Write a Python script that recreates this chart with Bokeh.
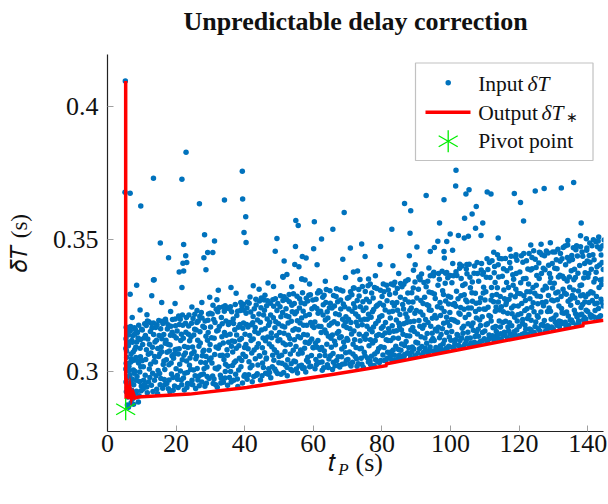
import numpy as np
from bokeh.plotting import figure
from bokeh.models import (Label, Title, BoxAnnotation, FixedTicker, Range1d, CustomJSTickFormatter, LinearAxis)
from bokeh.embed import file_html
from bokeh.resources import INLINE

# ---------------- data ----------------
x_ticks = [0, 20, 40, 60, 80, 100, 120, 140]
y_ticks = [0.3, 0.35, 0.4]

# isolated / high input samples (t_P, dT)
input_outliers = [(5.2,0.4097),(5.1,0.3677),(6.6,0.3674),(13.4,0.3730),(21.7,0.3726),(22.9,0.3828),(39.3,0.3757),
    (9.7,0.3626),(26.8,0.3634),(34.1,0.3648),(39.4,0.3652),(40.3,0.3585),(39.8,0.3526),(40.4,0.3488),(15.4,0.3486),
    (22.2,0.3480),(28.3,0.3517),(31.2,0.3494),(17.8,0.3430),(22.8,0.3438),(22.0,0.3410),(23.1,0.3412),(28.1,0.3430),
    (29.2,0.3450),(30.7,0.3450),(28.7,0.3385),(20.9,0.3377),(22.2,0.3380),(13.6,0.3347),(49.4,0.3503),(48.9,0.3455),
    (51.5,0.3418),(51.2,0.3357),(52.3,0.3367),(54.9,0.3571),(55.6,0.3552),(60.3,0.3566),(54.8,0.3473),(56.8,0.3435),
    (57.9,0.3429),(54.6,0.3405),(55.8,0.3396),(60.1,0.3464),(61.1,0.3404),(62.4,0.3501),(56.7,0.3350),(65.7,0.3538),
    (69.0,0.3601),(68.6,0.3425),(70.8,0.3467),(71.7,0.3377),(72.9,0.3380),(74.1,0.3482),(75.1,0.3435),(76.1,0.3350),
    (79.6,0.3473),(79.4,0.3405),(82.9,0.3538),(83.2,0.3400),(86.6,0.3635),(88.4,0.3608),(88.2,0.3523),(90.2,0.3471),
    (88.0,0.3438),(89.7,0.3404),(92.9,0.3665),(96.8,0.3561),(98.1,0.3649),(101.6,0.3760),(101.5,0.3701),(104.5,0.3671),
    (105.4,0.3687),(107.5,0.3624),(106.3,0.3595),(104.1,0.3579),(107.3,0.3542),(109.4,0.3561),(108.9,0.3514),(99.9,0.3520),
    (102.3,0.3514),(104.0,0.3505),(105.2,0.3511),(98.9,0.3492),(96.3,0.3493),(95.3,0.3469),(94.1,0.3454),(98.1,0.3454),
    (100.6,0.3459),(98.2,0.3429),(110.7,0.3678),(111.8,0.3671),(118.6,0.3673),(120.4,0.3639),(121.3,0.3569),(124.7,0.3682),
    (127.3,0.3692),(132.3,0.3693),(135.9,0.3714),(138.1,0.3561),(137.9,0.3513),(113.9,0.3505),(113.7,0.3442),(119.1,0.3442)]

# samples just above the dense band
input_fringe = [(8.5,0.3327),(13.4,0.3346),(6.6,0.3293),(12.9,0.3287),(21.7,0.3318),(19.7,0.3258),(27.5,0.3262),
    (32.3,0.3308),(36.0,0.3318),(42.5,0.3325),(45.9,0.3289),(48.4,0.3322),(51.1,0.3360),(53.7,0.3321),(56.6,0.3350),
    (57.6,0.3346),(39.6,0.3255),(34.3,0.3249),(18.4,0.3228),(9.5,0.3233),(71.7,0.3316),(76.6,0.3331),(80.4,0.3331),
    (83.4,0.3328),(86.4,0.3330),(91.1,0.3354),(95.0,0.3362),(98.9,0.3375),(104.8,0.3370),(109.6,0.3375),(7.2,0.3205),
    (11.5,0.3215),(15.8,0.3262),(24.6,0.3245),(29.8,0.3281),(37.5,0.3296),(44.2,0.3312),(16.9,0.3198),(26.1,0.3231),
    (31.9,0.3272),(46.8,0.3335),(58.9,0.3331),(63.5,0.3342),(69.4,0.3356),(73.6,0.3348),(78.1,0.3362),(84.9,0.3371),
    (89.2,0.3383),(93.7,0.3392),(102.7,0.3406),(112.6,0.3451),(117.3,0.3462),(123.4,0.3478),(129.1,0.3487),
    (134.2,0.3495),(139.6,0.3502),(143.2,0.3509),(126.4,0.3481)]

# dense band of input samples, by 10 s stretch
band_05_10 = [(5.4,0.3125),(5.5,0.2925),(5.6,0.3055),(5.7,0.2978),(5.8,0.3151),(5.9,0.2905),(6.0,0.3012),(6.1,0.3098),
    (6.2,0.2941),(6.3,0.3167),(6.5,0.2912),(6.7,0.3036),(6.9,0.2962),(7.1,0.3118),(7.3,0.2899),(7.5,0.3075),(7.7,0.2995),
    (7.9,0.3142),(8.1,0.2918),(8.3,0.3054),(8.6,0.2982),(8.9,0.3128),(9.2,0.2910),(9.5,0.3089),(9.7,0.3019),(9.9,0.3161),
    (6.1,0.2866),(6.9,0.2883),(7.6,0.2878),(9.0,0.2886),(5.8,0.2875),
    (5.45,0.3032),(5.65,0.3108),(5.85,0.2958),(6.05,0.3139),(6.25,0.3021),(6.45,0.2986),(6.65,0.3155),(6.85,0.3067),
    (7.05,0.2931),(7.25,0.3112),(7.45,0.3043),(7.65,0.2951),(7.85,0.3166),(8.05,0.3001),(8.25,0.3094),(8.45,0.2927),
    (8.75,0.3148),(9.05,0.3033),(9.35,0.2964),(9.65,0.3122),(9.85,0.2947),(5.35,0.3088),(5.4,0.2962),(5.35,0.3011),
    (5.45,0.3168),
    (5.55,0.3079),(5.75,0.2939),(5.95,0.3146),(6.15,0.3003),(6.35,0.3112),(6.55,0.2955),(6.75,0.3171),(6.95,0.3049),
    (7.15,0.2973),(7.35,0.3136),(7.55,0.3007),(7.75,0.2922),(7.95,0.3084),(8.15,0.3159),(8.35,0.2968),(8.55,0.3113),
    (8.8,0.3041),(9.1,0.3176),(9.4,0.2999),(9.6,0.3057),(9.8,0.2929)]
band_10_20 = [(10.1,0.3042),(10.4,0.2935),(10.7,0.3128),(11.0,0.2987),(11.3,0.3175),(11.6,0.2921),(11.9,0.3066),
    (12.2,0.3011),(12.5,0.3152),(12.8,0.2949),(13.1,0.3093),(13.4,0.3184),(13.7,0.2968),(14.0,0.3037),(14.3,0.3119),
    (14.6,0.2917),(14.9,0.3058),(15.2,0.2994),(15.5,0.3163),(15.8,0.3076),(16.1,0.2938),(16.4,0.3141),(16.7,0.3009),
    (17.0,0.3189),(17.3,0.2956),(17.6,0.3104),(17.9,0.3027),(18.2,0.2925),(18.5,0.3172),(18.8,0.3061),(19.1,0.2979),
    (19.4,0.3136),(19.7,0.3083),
    (10.25,0.3103),(10.55,0.2968),(10.85,0.3181),(11.15,0.3047),(11.45,0.2943),(11.75,0.3124),(12.05,0.3189),
    (12.35,0.2979),(12.65,0.3071),(12.95,0.3165),(13.25,0.2926),(13.55,0.3039),(13.85,0.3113),(14.15,0.2985),
    (14.45,0.3178),(14.75,0.3005),(15.05,0.3137),(15.35,0.2951),(15.65,0.3094),(15.95,0.3191),(16.25,0.3028),
    (16.55,0.2971),(16.85,0.3108),(17.15,0.3046),(17.45,0.3162),(17.75,0.2936),(18.05,0.3079),(18.35,0.3138),
    (18.65,0.2992),(18.95,0.3197),(19.25,0.3051),(19.55,0.2947),(19.85,0.3174),
    (10.15,0.3158),(10.45,0.3019),(10.75,0.2952),(11.05,0.3137),(11.35,0.3083),(11.65,0.3192),(11.95,0.2962),
    (12.25,0.3104),(12.55,0.3029),(12.85,0.3182),(13.15,0.2995),(13.45,0.3141),(13.75,0.3058),(14.05,0.3167),
    (14.35,0.2934),(14.65,0.3088),(14.95,0.3194),(15.25,0.3068),(15.55,0.2975),(15.85,0.3125),(16.15,0.3182),
    (16.45,0.3041),(16.75,0.2952),(17.05,0.3119),(17.35,0.3074),(17.65,0.3178),(17.95,0.2969),(18.25,0.3101),
    (18.55,0.3033),(18.85,0.3149),(19.15,0.2931),(19.45,0.3066),(19.75,0.3199)]
band_20_30 = [(20.0,0.3012),(20.3,0.3154),(20.6,0.2941),(20.9,0.3087),(21.2,0.3198),(21.5,0.2969),(21.8,0.3046),
    (22.1,0.3127),(22.4,0.2932),(22.7,0.3071),(23.0,0.3205),(23.3,0.2998),(23.6,0.3142),(23.9,0.3025),(24.2,0.2954),
    (24.5,0.3183),(24.8,0.3094),(25.1,0.3007),(25.4,0.3161),(25.7,0.2937),(26.0,0.3059),(26.3,0.3119),(26.6,0.2983),
    (26.9,0.3209),(27.2,0.3036),(27.5,0.2962),(27.8,0.3172),(28.1,0.3081),(28.4,0.2946),(28.7,0.3134),(29.0,0.3018),
    (29.3,0.3195),(29.6,0.2975),(29.9,0.3103),
    (20.15,0.3085),(20.45,0.2972),(20.75,0.3211),(21.05,0.3029),(21.35,0.3118),(21.65,0.2951),(21.95,0.3176),
    (22.25,0.3063),(22.55,0.2995),(22.85,0.3149),(23.15,0.2941),(23.45,0.3092),(23.75,0.3214),(24.05,0.3052),
    (24.35,0.3131),(24.65,0.2968),(24.95,0.3201),(25.25,0.3076),(25.55,0.2985),(25.85,0.3158),(26.15,0.3013),
    (26.45,0.3192),(26.75,0.2948),(27.05,0.3109),(27.35,0.3224),(27.65,0.3061),(27.95,0.2992),(28.25,0.3167),
    (28.55,0.3034),(28.85,0.2957),(29.15,0.3119),(29.45,0.3218),(29.75,0.3045),
    (20.05,0.3128),(20.35,0.2986),(20.65,0.3067),(20.95,0.3179),(21.25,0.3003),(21.55,0.3142),(21.85,0.3214),
    (22.15,0.2977),(22.45,0.3096),(22.75,0.3183),(23.05,0.3041),(23.35,0.2956),(23.65,0.3173),(23.95,0.3117),
    (24.25,0.3009),(24.55,0.3068),(24.85,0.2951),(25.15,0.3139),(25.45,0.3217),(25.75,0.3049),(26.05,0.3186),
    (26.35,0.2969),(26.65,0.3097),(26.95,0.3151),(27.25,0.2989),(27.55,0.3203),(27.85,0.3077),(28.15,0.3012),
    (28.45,0.3192),(28.75,0.3058),(29.05,0.2982),(29.35,0.3148),(29.65,0.3081),(29.95,0.3221)]
band_30_40 = [(30.2,0.3052),(30.5,0.3218),(30.8,0.2956),(31.1,0.3127),(31.4,0.3014),(31.7,0.3236),(32.0,0.2942),
    (32.3,0.3089),(32.6,0.3171),(32.9,0.2987),(33.2,0.3205),(33.5,0.3063),(33.8,0.2961),(34.1,0.3148),(34.4,0.3029),
    (34.7,0.3242),(35.0,0.2949),(35.3,0.3112),(35.6,0.3186),(35.9,0.3001),(36.2,0.3227),(36.5,0.3075),(36.8,0.2968),
    (37.1,0.3159),(37.4,0.3041),(37.7,0.3213),(38.0,0.2945),(38.3,0.3098),(38.6,0.3179),(38.9,0.3019),(39.2,0.3248),
    (39.5,0.3066),(39.8,0.2983),
    (30.35,0.3129),(30.65,0.2984),(30.95,0.3197),(31.25,0.3065),(31.55,0.2951),(31.85,0.3154),(32.15,0.3227),
    (32.45,0.3018),(32.75,0.3101),(33.05,0.2958),(33.35,0.3132),(33.65,0.3245),(33.95,0.3047),(34.25,0.2977),
    (34.55,0.3192),(34.85,0.3083),(35.15,0.3021),(35.45,0.3238),(35.75,0.3142),(36.05,0.2962),(36.35,0.3116),
    (36.65,0.3199),(36.95,0.3035),(37.25,0.3254),(37.55,0.3089),(37.85,0.2973),(38.15,0.3168),(38.45,0.3051),
    (38.75,0.3231),(39.05,0.3126),(39.35,0.2958),(39.65,0.3184),(39.95,0.3092),
    (30.05,0.3169),(30.45,0.3033),(30.75,0.3251),(31.05,0.2973),(31.35,0.3186),(31.65,0.3094),(31.95,0.3011),
    (32.25,0.3157),(32.55,0.3243),(32.85,0.3062),(33.15,0.2976),(33.45,0.3181),(33.75,0.3109),(34.05,0.3229),
    (34.35,0.3001),(34.65,0.3138),(34.95,0.3063),(35.25,0.3179),(35.55,0.2979),(35.85,0.3246),(36.15,0.3097),
    (36.45,0.3024),(36.75,0.3182),(37.05,0.3114),(37.35,0.2991),(37.65,0.3139),(37.95,0.3229),(38.25,0.3007),
    (38.55,0.3121),(38.85,0.3262),(39.15,0.3043),(39.45,0.3164),(39.75,0.3232)]
band_40_50 = [(40.1,0.3142),(40.4,0.3221),(40.7,0.2972),(41.0,0.3087),(41.3,0.3259),(41.6,0.3015),(41.9,0.3178),
    (42.2,0.2963),(42.5,0.3124),(42.8,0.3238),(43.1,0.3049),(43.4,0.2987),(43.7,0.3196),(44.0,0.3106),(44.3,0.3267),
    (44.6,0.2969),(44.9,0.3158),(45.2,0.3033),(45.5,0.3214),(45.8,0.3072),(46.1,0.2995),(46.4,0.3249),(46.7,0.3131),
    (47.0,0.3012),(47.3,0.3187),(47.6,0.2978),(47.9,0.3095),(48.2,0.3272),(48.5,0.3044),(48.8,0.3166),(49.1,0.3002),
    (49.4,0.3231),(49.7,0.3117),
    (40.25,0.3058),(40.55,0.3179),(40.85,0.3263),(41.15,0.2989),(41.45,0.3137),(41.75,0.3226),(42.05,0.3071),
    (42.35,0.3185),(42.65,0.2982),(42.95,0.3152),(43.25,0.3274),(43.55,0.3093),(43.85,0.3026),(44.15,0.3218),
    (44.45,0.3059),(44.75,0.3242),(45.05,0.2985),(45.35,0.3128),(45.65,0.3271),(45.95,0.3163),(46.25,0.3048),
    (46.55,0.3199),(46.85,0.2991),(47.15,0.3105),(47.45,0.3259),(47.75,0.3147),(48.05,0.3019),(48.35,0.3204),
    (48.65,0.3083),(48.95,0.3276),(49.25,0.3136),(49.55,0.2994),(49.85,0.3181),
    (40.05,0.2989),(40.35,0.3103),(40.65,0.3241),(40.95,0.3169),(41.25,0.3038),(41.55,0.3282),(41.85,0.3118),
    (42.15,0.3024),(42.45,0.3209),(42.75,0.3082),(43.05,0.3167),(43.35,0.3252),(43.65,0.2993),(43.95,0.3146),
    (44.25,0.3061),(44.55,0.3187),(44.85,0.3279),(45.15,0.3091),(45.45,0.3016),(45.75,0.3232),(46.05,0.3117),
    (46.35,0.3052),(46.65,0.3268),(46.95,0.3176),(47.25,0.2998),(47.55,0.3214),(47.85,0.3129),(48.15,0.3063),
    (48.45,0.3247),(48.75,0.3011),(49.05,0.3189),(49.35,0.3073),(49.65,0.3258),(49.95,0.3034)]
band_50_60 = [(50.0,0.3058),(50.3,0.3246),(50.6,0.2991),(50.9,0.3173),(51.2,0.3109),(51.5,0.3283),(51.8,0.3026),
    (52.1,0.3212),(52.4,0.2985),(52.7,0.3138),(53.0,0.3264),(53.3,0.3067),(53.6,0.3191),(53.9,0.3004),(54.2,0.3295),
    (54.5,0.3121),(54.8,0.3038),(55.1,0.3227),(55.4,0.2996),(55.7,0.3159),(56.0,0.3276),(56.3,0.3082),(56.6,0.3203),
    (56.9,0.3013),(57.2,0.3141),(57.5,0.3257),(57.8,0.2999),(58.1,0.3176),(58.4,0.3055),(58.7,0.3289),(59.0,0.3114),
    (59.3,0.3021),(59.6,0.3238),(59.9,0.3092),
    (50.15,0.3148),(50.45,0.3287),(50.75,0.3063),(51.05,0.3224),(51.35,0.2998),(51.65,0.3169),(51.95,0.3102),
    (52.25,0.3273),(52.55,0.3046),(52.85,0.3208),(53.15,0.3126),(53.45,0.3009),(53.75,0.3251),(54.05,0.3157),
    (54.35,0.3041),(54.65,0.3219),(54.95,0.3096),(55.25,0.3285),(55.55,0.3133),(55.85,0.3022),(56.15,0.3184),
    (56.45,0.3261),(56.75,0.3071),(57.05,0.3229),(57.35,0.3015),(57.65,0.3112),(57.95,0.3278),(58.25,0.3139),
    (58.55,0.3037),(58.85,0.3216),(59.15,0.3291),(59.45,0.3062),(59.75,0.3173),
    (50.25,0.3121),(50.55,0.3208),(50.85,0.3032),(51.15,0.3269),(51.45,0.3146),(51.75,0.3077),(52.05,0.3238),
    (52.35,0.3016),(52.65,0.3184),(52.95,0.3292),(53.25,0.3104),(53.55,0.3031),(53.85,0.3227),(54.15,0.3081),
    (54.45,0.3258),(54.75,0.3163),(55.05,0.3011),(55.35,0.3193),(55.65,0.3067),(55.95,0.3241),(56.25,0.3129),
    (56.55,0.3025),(56.85,0.3298),(57.15,0.3176),(57.45,0.3089),(57.75,0.3212),(58.05,0.3044),(58.35,0.3267),
    (58.65,0.3108),(58.95,0.3019),(59.25,0.3186),(59.55,0.3124),(59.85,0.3271)]
band_60_70 = [(60.2,0.3167),(60.5,0.3012),(60.8,0.3274),(61.1,0.3093),(61.4,0.3221),(61.7,0.3035),(62.0,0.3302),
    (62.3,0.3148),(62.6,0.3006),(62.9,0.3253),(63.2,0.3079),(63.5,0.3196),(63.8,0.3311),(64.1,0.3027),(64.4,0.3134),
    (64.7,0.3242),(65.0,0.3061),(65.3,0.3183),(65.6,0.3009),(65.9,0.3288),(66.2,0.3115),(66.5,0.3219),(66.8,0.3043),
    (67.1,0.3264),(67.4,0.3152),(67.7,0.3018),(68.0,0.3237),(68.3,0.3086),(68.6,0.3305),(68.9,0.3174),(69.2,0.3031),
    (69.5,0.3208),(69.8,0.3126),
    (60.35,0.3246),(60.65,0.3109),(60.95,0.3028),(61.25,0.3297),(61.55,0.3172),(61.85,0.3061),(62.15,0.3229),
    (62.45,0.3092),(62.75,0.3281),(63.05,0.3015),(63.35,0.3158),(63.65,0.3262),(63.95,0.3104),(64.25,0.3203),
    (64.55,0.3048),(64.85,0.3306),(65.15,0.3127),(65.45,0.3241),(65.75,0.3069),(66.05,0.3189),(66.35,0.3023),
    (66.65,0.3284),(66.95,0.3146),(67.25,0.3057),(67.55,0.3215),(67.85,0.3309),(68.15,0.3132),(68.45,0.3029),
    (68.75,0.3256),(69.05,0.3095),(69.35,0.3187),(69.65,0.3044),(69.95,0.3278),
    (60.05,0.3091),(60.45,0.3188),(60.75,0.3047),(61.05,0.3239),(61.35,0.3118),(61.65,0.3306),(61.95,0.3084),
    (62.25,0.3171),(62.55,0.3037),(62.85,0.3214),(63.15,0.3289),(63.45,0.3062),(63.75,0.3147),(64.05,0.3227),
    (64.35,0.3016),(64.65,0.3176),(64.95,0.3259),(65.25,0.3093),(65.55,0.3139),(65.85,0.3036),(66.15,0.3248),
    (66.45,0.3102),(66.75,0.3313),(67.05,0.3181),(67.35,0.3024),(67.65,0.3129),(67.95,0.3271),(68.25,0.3057),
    (68.55,0.3198),(68.85,0.3113),(69.15,0.3246),(69.45,0.3072),(69.75,0.3167)]
band_70_80 = [(70.1,0.3047),(70.4,0.3281),(70.7,0.3163),(71.0,0.3022),(71.3,0.3229),(71.6,0.3104),(71.9,0.3316),
    (72.2,0.3058),(72.5,0.3187),(72.8,0.3269),(73.1,0.3031),(73.4,0.3142),(73.7,0.3246),(74.0,0.3089),(74.3,0.3322),
    (74.6,0.3016),(74.9,0.3198),(75.2,0.3123),(75.5,0.3274),(75.8,0.3052),(76.1,0.3217),(76.4,0.3161),(76.7,0.3028),
    (77.0,0.3297),(77.3,0.3109),(77.6,0.3235),(77.9,0.3067),(78.2,0.3182),(78.5,0.3314),(78.8,0.3039),(79.1,0.3141),
    (79.4,0.3259),(79.7,0.3095),
    (70.25,0.3198),(70.55,0.3075),(70.85,0.3302),(71.15,0.3143),(71.45,0.3036),(71.75,0.3257),(72.05,0.3121),
    (72.35,0.3218),(72.65,0.3049),(72.95,0.3174),(73.25,0.3311),(73.55,0.3087),(73.85,0.3196),(74.15,0.3029),
    (74.45,0.3264),(74.75,0.3133),(75.05,0.3061),(75.35,0.3241),(75.65,0.3172),(75.95,0.3325),(76.25,0.3098),
    (76.55,0.3041),(76.85,0.3206),(77.15,0.3151),(77.45,0.3279),(77.75,0.3024),(78.05,0.3118),(78.35,0.3247),
    (78.65,0.3076),(78.95,0.3193),(79.25,0.3035),(79.55,0.3308),(79.85,0.3164),
    (70.05,0.3119),(70.35,0.3237),(70.65,0.3029),(70.95,0.3186),(71.25,0.3291),(71.55,0.3067),(71.85,0.3154),
    (72.15,0.3243),(72.45,0.3092),(72.75,0.3021),(73.05,0.3209),(73.35,0.3286),(73.65,0.3117),(73.95,0.3051),
    (74.25,0.3178),(74.55,0.3231),(74.85,0.3074),(75.15,0.3303),(75.45,0.3142),(75.75,0.3198),(76.05,0.3037),
    (76.35,0.3264),(76.65,0.3121),(76.95,0.3059),(77.25,0.3227),(77.55,0.3169),(77.85,0.3318),(78.15,0.3046),
    (78.45,0.3136),(78.75,0.3252),(79.05,0.3088),(79.35,0.3207),(79.65,0.3043)]
band_80_90 = [(80.0,0.3212),(80.3,0.3064),(80.6,0.3302),(80.9,0.3147),(81.2,0.3045),(81.5,0.3268),(81.8,0.3118),
    (82.1,0.3226),(82.4,0.3059),(82.7,0.3331),(83.0,0.3174),(83.3,0.3082),(83.6,0.3249),(83.9,0.3043),(84.2,0.3196),
    (84.5,0.3314),(84.8,0.3127),(85.1,0.3063),(85.4,0.3281),(85.7,0.3158),(86.0,0.3049),(86.3,0.3237),(86.6,0.3099),
    (86.9,0.3342),(87.2,0.3186),(87.5,0.3072),(87.8,0.3263),(88.1,0.3135),(88.4,0.3055),(88.7,0.3298),(89.0,0.3167),
    (89.3,0.3086),(89.6,0.3221),(89.9,0.3112),
    (80.15,0.3137),(80.45,0.3251),(80.75,0.3043),(81.05,0.3186),(81.35,0.3327),(81.65,0.3074),(81.95,0.3163),
    (82.25,0.3292),(82.55,0.3118),(82.85,0.3046),(83.15,0.3229),(83.45,0.3153),(83.75,0.3338),(84.05,0.3097),
    (84.35,0.3262),(84.65,0.3049),(84.95,0.3183),(85.25,0.3216),(85.55,0.3081),(85.85,0.3321),(86.15,0.3142),
    (86.45,0.3058),(86.75,0.3273),(87.05,0.3114),(87.35,0.3205),(87.65,0.3347),(87.95,0.3068),(88.25,0.3189),
    (88.55,0.3241),(88.85,0.3094),(89.15,0.3316),(89.45,0.3152),(89.75,0.3061),
    (80.05,0.3284),(80.35,0.3171),(80.65,0.3092),(80.95,0.3233),(81.25,0.3121),(81.55,0.3051),(81.85,0.3309),
    (82.15,0.3148),(82.45,0.3203),(82.75,0.3076),(83.05,0.3261),(83.35,0.3128),(83.65,0.3063),(83.95,0.3297),
    (84.25,0.3155),(84.55,0.3232),(84.85,0.3084),(85.15,0.3171),(85.45,0.3333),(85.75,0.3105),(86.05,0.3254),
    (86.35,0.3181),(86.65,0.3065),(86.95,0.3218),(87.25,0.3136),(87.55,0.3297),(87.85,0.3091),(88.15,0.3232),
    (88.45,0.3158),(88.75,0.3074),(89.05,0.3263),(89.35,0.3191),(89.65,0.3339)]
band_90_100 = [(90.2,0.3279),(90.5,0.3071),(90.8,0.3194),(91.1,0.3347),(91.4,0.3132),(91.7,0.3064),(92.0,0.3258),
    (92.3,0.3176),(92.6,0.3089),(92.9,0.3321),(93.2,0.3145),(93.5,0.3069),(93.8,0.3233),(94.1,0.3362),(94.4,0.3117),
    (94.7,0.3202),(95.0,0.3078),(95.3,0.3294),(95.6,0.3161),(95.9,0.3075),(96.2,0.3246),(96.5,0.3371),(96.8,0.3129),
    (97.1,0.3213),(97.4,0.3084),(97.7,0.3306),(98.0,0.3183),(98.3,0.3081),(98.6,0.3267),(98.9,0.3148),(99.2,0.3355),
    (99.5,0.3097),(99.8,0.3224),
    (90.35,0.3143),(90.65,0.3312),(90.95,0.3087),(91.25,0.3226),(91.55,0.3369),(91.85,0.3164),(92.15,0.3073),
    (92.45,0.3281),(92.75,0.3197),(93.05,0.3108),(93.35,0.3342),(93.65,0.3249),(93.95,0.3081),(94.25,0.3172),
    (94.55,0.3298),(94.85,0.3126),(95.15,0.3376),(95.45,0.3213),(95.75,0.3092),(96.05,0.3154),(96.35,0.3327),
    (96.65,0.3079),(96.95,0.3262),(97.25,0.3141),(97.55,0.3379),(97.85,0.3106),(98.15,0.3228),(98.45,0.3334),
    (98.75,0.3089),(99.05,0.3187),(99.35,0.3285),(99.65,0.3131),(99.95,0.3363),
    (90.05,0.3231),(90.45,0.3109),(90.75,0.3358),(91.05,0.3172),(91.35,0.3269),(91.65,0.3096),(91.95,0.3214),
    (92.25,0.3337),(92.55,0.3128),(92.85,0.3078),(93.15,0.3253),(93.45,0.3186),(93.75,0.3301),(94.05,0.3094),
    (94.35,0.3232),(94.65,0.3146),(94.95,0.3371),(95.25,0.3118),(95.55,0.3277),(95.85,0.3203),(96.15,0.3087),
    (96.45,0.3168),(96.75,0.3349),(97.05,0.3098),(97.35,0.3241),(97.65,0.3163),(97.95,0.3292),(98.25,0.3119),
    (98.55,0.3372),(98.85,0.3206),(99.15,0.3091),(99.45,0.3256),(99.75,0.3174)]
band_100_110 = [(100.1,0.3119),(100.4,0.3336),(100.7,0.3254),(101.0,0.3089),(101.3,0.3192),(101.6,0.3378),(101.9,0.3141),
    (102.2,0.3276),(102.5,0.3098),(102.8,0.3217),(103.1,0.3352),(103.4,0.3164),(103.7,0.3094),(104.0,0.3291),(104.3,0.3205),
    (104.6,0.3388),(104.9,0.3127),(105.2,0.3241),(105.5,0.3101),(105.8,0.3317),(106.1,0.3173),(106.4,0.3266),(106.7,0.3105),
    (107.0,0.3399),(107.3,0.3228),(107.6,0.3151),(107.9,0.3106),(108.2,0.3342),(108.5,0.3196),(108.8,0.3279),(109.1,0.3116),
    (109.4,0.3368),(109.7,0.3237),
    (100.25,0.3197),(100.55,0.3093),(100.85,0.3362),(101.15,0.3258),(101.45,0.3121),(101.75,0.3304),(102.05,0.3187),
    (102.35,0.3099),(102.65,0.3391),(102.95,0.3243),(103.25,0.3128),(103.55,0.3326),(103.85,0.3172),(104.15,0.3104),
    (104.45,0.3271),(104.75,0.3405),(105.05,0.3149),(105.35,0.3216),(105.65,0.3357),(105.95,0.3109),(106.25,0.3298),
    (106.55,0.3184),(106.85,0.3372),(107.15,0.3133),(107.45,0.3259),(107.75,0.3412),(108.05,0.3161),(108.35,0.3236),
    (108.65,0.3114),(108.95,0.3384),(109.25,0.3208),(109.55,0.3297),(109.85,0.3125),
    (100.05,0.3281),(100.35,0.3152),(100.65,0.3409),(100.95,0.3196),(101.25,0.3107),(101.55,0.3247),(101.85,0.3363),
    (102.15,0.3137),(102.45,0.3222),(102.75,0.3118),(103.05,0.3287),(103.35,0.3399),(103.65,0.3146),(103.95,0.3236),
    (104.25,0.3331),(104.55,0.3117),(104.85,0.3264),(105.15,0.3181),(105.45,0.3406),(105.75,0.3128),(106.05,0.3241),
    (106.35,0.3339),(106.65,0.3157),(106.95,0.3112),(107.25,0.3296),(107.55,0.3203),(107.85,0.3371),(108.15,0.3134),
    (108.45,0.3262),(108.75,0.3175),(109.05,0.3409),(109.35,0.3148),(109.65,0.3319)]
band_110_120 = [(110.0,0.3154),(110.3,0.3302),(110.6,0.3113),(110.9,0.3386),(111.2,0.3213),(111.5,0.3128),(111.8,0.3271),
    (112.1,0.3419),(112.4,0.3166),(112.7,0.3118),(113.0,0.3337),(113.3,0.3245),(113.6,0.3138),(113.9,0.3404),(114.2,0.3192),
    (114.5,0.3284),(114.8,0.3124),(115.1,0.3361),(115.4,0.3227),(115.7,0.3149),(116.0,0.3428),(116.3,0.3263),(116.6,0.3128),
    (116.9,0.3318),(117.2,0.3185),(117.5,0.3392),(117.8,0.3241),(118.1,0.3131),(118.4,0.3349),(118.7,0.3206),(119.0,0.3433),
    (119.3,0.3158),(119.6,0.3296),(119.9,0.3136),
    (110.15,0.3236),(110.45,0.3357),(110.75,0.3181),(111.05,0.3122),(111.35,0.3412),(111.65,0.3209),(111.95,0.3318),
    (112.25,0.3136),(112.55,0.3264),(112.85,0.3397),(113.15,0.3171),(113.45,0.3292),(113.75,0.3127),(114.05,0.3358),
    (114.35,0.3233),(114.65,0.3144),(114.95,0.3427),(115.25,0.3186),(115.55,0.3309),(115.85,0.3137),(116.15,0.3254),
    (116.45,0.3381),(116.75,0.3169),(117.05,0.3274),(117.35,0.3143),(117.65,0.3436),(117.95,0.3219),(118.25,0.3327),
    (118.55,0.3151),(118.85,0.3283),(119.15,0.3371),(119.45,0.3192),(119.75,0.3248),
    (110.05,0.3271),(110.35,0.3178),(110.65,0.3427),(110.95,0.3244),(111.25,0.3139),(111.55,0.3356),(111.85,0.3192),
    (112.15,0.3288),(112.45,0.3127),(112.75,0.3374),(113.05,0.3229),(113.35,0.3152),(113.65,0.3317),(113.95,0.3263),
    (114.25,0.3428),(114.55,0.3169),(114.85,0.3246),(115.15,0.3141),(115.45,0.3389),(115.75,0.3276),(116.05,0.3191),
    (116.35,0.3337),(116.65,0.3221),(116.95,0.3154),(117.25,0.3412),(117.55,0.3289),(117.85,0.3174),(118.15,0.3366),
    (118.45,0.3248),(118.75,0.3139),(119.05,0.3312),(119.35,0.3421),(119.65,0.3215)]
band_120_130 = [(120.2,0.3377),(120.5,0.3219),(120.8,0.3141),(121.1,0.3413),(121.4,0.3287),(121.7,0.3176),(122.0,0.3352),
    (122.3,0.3238),(122.6,0.3142),(122.9,0.3446),(123.2,0.3302),(123.5,0.3195),(123.8,0.3389),(124.1,0.3261),(124.4,0.3148),
    (124.7,0.3425),(125.0,0.3327),(125.3,0.3212),(125.6,0.3163),(125.9,0.3451),(126.2,0.3284),(126.5,0.3371),(126.8,0.3179),
    (127.1,0.3249),(127.4,0.3438),(127.7,0.3153),(128.0,0.3316),(128.3,0.3228),(128.6,0.3402),(128.9,0.3167),(129.2,0.3355),
    (129.5,0.3271),(129.8,0.3452),
    (120.35,0.3295),(120.65,0.3438),(120.95,0.3183),(121.25,0.3351),(121.55,0.3146),(121.85,0.3269),(122.15,0.3419),
    (122.45,0.3201),(122.75,0.3331),(123.05,0.3162),(123.35,0.3384),(123.65,0.3244),(123.95,0.3149),(124.25,0.3457),
    (124.55,0.3296),(124.85,0.3188),(125.15,0.3363),(125.45,0.3257),(125.75,0.3411),(126.05,0.3154),(126.35,0.3226),
    (126.65,0.3442),(126.95,0.3309),(127.25,0.3173),(127.55,0.3385),(127.85,0.3264),(128.15,0.3159),(128.45,0.3448),
    (128.75,0.3241),(129.05,0.3337),(129.35,0.3198),(129.65,0.3409),(129.95,0.3162),
    (120.05,0.3171),(120.45,0.3336),(120.75,0.3258),(121.05,0.3197),(121.35,0.3446),(121.65,0.3231),(121.95,0.3161),
    (122.25,0.3302),(122.55,0.3388),(122.85,0.3213),(123.15,0.3276),(123.45,0.3159),(123.75,0.3431),(124.05,0.3318),
    (124.35,0.3227),(124.65,0.3171),(124.95,0.3394),(125.25,0.3286),(125.55,0.3206),(125.85,0.3352),(126.15,0.3449),
    (126.45,0.3177),(126.75,0.3262),(127.05,0.3391),(127.35,0.3194),(127.65,0.3323),(127.95,0.3456),(128.25,0.3174),
    (128.55,0.3288),(128.85,0.3371),(129.15,0.3229),(129.45,0.3169),(129.75,0.3316)]
band_130_140 = [(130.1,0.3203),(130.4,0.3391),(130.7,0.3297),(131.0,0.3176),(131.3,0.3462),(131.6,0.3248),(131.9,0.3364),
    (132.2,0.3189),(132.5,0.3427),(132.8,0.3312),(133.1,0.3221),(133.4,0.3475),(133.7,0.3169),(134.0,0.3343),(134.3,0.3266),
    (134.6,0.3418),(134.9,0.3195),(135.2,0.3381),(135.5,0.3288),(135.8,0.3468),(136.1,0.3232),(136.4,0.3356),(136.7,0.3177),
    (137.0,0.3437),(137.3,0.3305),(137.6,0.3214),(137.9,0.3472),(138.2,0.3328),(138.5,0.3254),(138.8,0.3196),(139.1,0.3409),
    (139.4,0.3283),(139.7,0.3459),
    (130.25,0.3334),(130.55,0.3187),(130.85,0.3423),(131.15,0.3272),(131.45,0.3358),(131.75,0.3171),(132.05,0.3446),
    (132.35,0.3239),(132.65,0.3361),(132.95,0.3182),(133.25,0.3297),(133.55,0.3404),(133.85,0.3226),(134.15,0.3478),
    (134.45,0.3175),(134.75,0.3319),(135.05,0.3251),(135.35,0.3439),(135.65,0.3186),(135.95,0.3347),(136.25,0.3279),
    (136.55,0.3461),(136.85,0.3208),(137.15,0.3372),(137.45,0.3184),(137.75,0.3326),(138.05,0.3243),(138.35,0.3452),
    (138.65,0.3291),(138.95,0.3206),(139.25,0.3374),(139.55,0.3232),(139.85,0.3418),
    (130.05,0.3268),(130.45,0.3452),(130.75,0.3214),(131.05,0.3389),(131.35,0.3301),(131.65,0.3192),(131.95,0.3417),
    (132.25,0.3284),(132.55,0.3223),(132.85,0.3469),(133.15,0.3352),(133.45,0.3187),(133.75,0.3293),(134.05,0.3431),
    (134.35,0.3211),(134.65,0.3358),(134.95,0.3274),(135.25,0.3196),(135.55,0.3424),(135.85,0.3309),(136.15,0.3387),
    (136.45,0.3219),(136.75,0.3476),(137.05,0.3262),(137.35,0.3193),(137.65,0.3401),(137.95,0.3287),(138.25,0.3217),
    (138.55,0.3436),(138.85,0.3354),(139.15,0.3263),(139.45,0.3199),(139.75,0.3467)]
band_140_145 = [(140.0,0.3228),(140.3,0.3371),(140.6,0.3486),(140.9,0.3302),(141.2,0.3212),(141.5,0.3442),(141.8,0.3339),
    (142.1,0.3257),(142.4,0.3491),(142.7,0.3396),(143.0,0.3203),(143.3,0.3318),(143.6,0.3463),(143.9,0.3274),(144.2,0.3412),
    (144.5,0.3349),(144.8,0.3497),
    (140.15,0.3294),(140.45,0.3439),(140.75,0.3215),(141.05,0.3387),(141.35,0.3269),(141.65,0.3498),(141.95,0.3206),
    (142.25,0.3351),(142.55,0.3284),(142.85,0.3472),(143.15,0.3239),(143.45,0.3403),(143.75,0.3212),(144.05,0.3329),
    (144.35,0.3476),(144.55,0.3248),
    (140.05,0.3357),(140.35,0.3262),(140.65,0.3413),(140.95,0.3206),(141.25,0.3476),(141.55,0.3297),(141.85,0.3423),
    (142.15,0.3231),(142.45,0.3376),(142.75,0.3259),(143.05,0.3494),(143.35,0.3207),(143.65,0.3346),(143.95,0.3441),
    (144.25,0.3262),(144.55,0.3386)]

# output (corrected) delay
output_t = [5.3, 5.3, 5.45, 5.6, 5.8, 6.0, 6.3, 6.6, 7.0, 7.5, 8.0, 9.0, 10.0, 24.0, 40.6, 66.0, 81.2, 81.4, 105.0, 138.6, 138.8, 144.6]
output_dT = [0.4097, 0.2990, 0.2898, 0.2975, 0.2900, 0.2950, 0.2897, 0.2935, 0.2899, 0.2920, 0.2901, 0.2905, 0.2906,
             0.2916, 0.2941, 0.2991, 0.3023, 0.3030, 0.3090, 0.3174, 0.3183, 0.3195]

pivot_t = [5.3]
pivot_dT = [0.2859]

# ---------------- build ----------------
all_input = (input_outliers + input_fringe + band_05_10 + band_10_20 + band_20_30 + band_30_40 + band_40_50 +
             band_50_60 + band_60_70 + band_70_80 + band_80_90 + band_90_100 + band_100_110 + band_110_120 +
             band_120_130 + band_130_140 + band_140_145)
input_t = [a for a, b in all_input]
input_dT = [b for a, b in all_input]

X0, X1 = 0.0, 144.6
Y0, Y1 = 0.2775, 0.4197
FL, FR, FT, FB = 107, 603, 54, 431
W, H = 608, 504

def dx(px):
    return X0 + (px - FL) * (X1 - X0) / (FR - FL)

def dy(py):
    return Y0 + (FB - py) * (Y1 - Y0) / (FB - FT)

SERIF = "Liberation Serif"
BLUE = "#0072BD"
INK = "#111111"

p = figure(width=W, height=H, output_backend="svg", toolbar_location=None, title=None,
           x_range=Range1d(X0, X1), y_range=Range1d(Y0, Y1),
           min_border_left=FL, min_border_right=W - FR, min_border_top=FT, min_border_bottom=H - FB)
p.outline_line_color = None
p.grid.visible = False

# title: spacer next to the frame, then the real title further out
p.add_layout(Title(text=" ", text_font_size="1px", standoff=14), "above")
p.add_layout(Title(text="Unpredictable delay correction", align="center", text_font=SERIF,
                   text_font_size="26px", text_font_style="bold", text_color=INK, standoff=4), "above")

for ax in (p.xaxis, p.yaxis):
    ax.major_tick_in = 6
    ax.major_tick_out = 0
    ax.minor_tick_line_color = None
    ax.major_tick_line_color = "#a0a0a0"
    ax.axis_line_color = "#222222"
    ax.axis_line_width = 1.2
    ax.major_label_text_font = SERIF
    ax.major_label_text_font_size = "26px"
    ax.major_label_text_color = INK
    ax.axis_label_text_font = SERIF
    ax.axis_label_text_font_style = "normal"
    ax.axis_label_text_color = INK
p.xaxis.axis_label_text_font_size = "26px"
p.yaxis.axis_label_text_font_size = "23px"
p.xaxis.ticker = FixedTicker(ticks=x_ticks)
p.yaxis.ticker = FixedTicker(ticks=y_ticks)
p.yaxis.formatter = CustomJSTickFormatter(code="return tick.toString();")
p.xaxis.major_label_standoff = 3
p.yaxis.major_label_standoff = 9
p.xaxis.axis_label = "\U0001D461\u2002\u2005(s)"
p.xaxis.axis_label_standoff = -7
p.yaxis.axis_label = "\U0001D6FF\U0001D447 (s)"
p.yaxis.axis_label_standoff = 18

# subscript P of the x-axis title, as the single label of an extra (bare) axis
sub_axis = LinearAxis(ticker=FixedTicker(ticks=[dx(343)]), formatter=CustomJSTickFormatter(code="return 'P';"),
                      axis_line_color=None, major_tick_line_color=None, minor_tick_line_color=None,
                      major_label_text_font=SERIF, major_label_text_font_style="italic",
                      major_label_text_font_size="17px", major_label_text_color=INK, major_label_standoff=-26)
p.add_layout(sub_axis, "below")

p.scatter(input_t, input_dT, size=5.5, fill_color=BLUE, line_color=None, marker="circle")
p.line(output_t, output_dT, line_color="#FF0000", line_width=3.5, line_join="miter")
for ang in (np.pi / 2, np.pi / 6, -np.pi / 6):
    p.scatter(pivot_t, pivot_dT, marker="dash", angle=ang, size=22, line_color="#00EE00", line_width=1.3)

# legend (manual, to keep mixed italic text)
p.add_layout(BoxAnnotation(left=dx(415), right=dx(592.5), top=dy(62.5), bottom=dy(160), fill_color="white",
                           fill_alpha=1.0, line_color="#333333", line_width=1.2, level="underlay"))
p.scatter([dx(447.7)], [dy(82.3)], size=5.5, fill_color=BLUE, line_color=None)
p.line([dx(425), dx(470)], [dy(111.7), dy(111.7)], line_color="#FF0000", line_width=3.5)
for ang in (np.pi / 2, np.pi / 6, -np.pi / 6):
    p.scatter([dx(447.7)], [dy(140.7)], marker="dash", angle=ang, size=22, line_color="#00EE00", line_width=1.3)

def lab(text, px, py, size="21.5px", style="normal"):
    p.add_layout(Label(x=dx(px), y=dy(py), text=text, text_font=SERIF, text_font_size=size,
                       text_font_style=style, text_align="left", text_baseline="middle", text_color=INK))

lab("Input", 477.7, 83)
lab("δT", 527, 83, style="italic")
lab("Output", 477.7, 112)
lab("δT", 541, 112, style="italic")
lab("∗", 565, 117, size="14px")
lab("Pivot point", 477.7, 140)

open("out.html", "w").write(file_html(p, INLINE))
